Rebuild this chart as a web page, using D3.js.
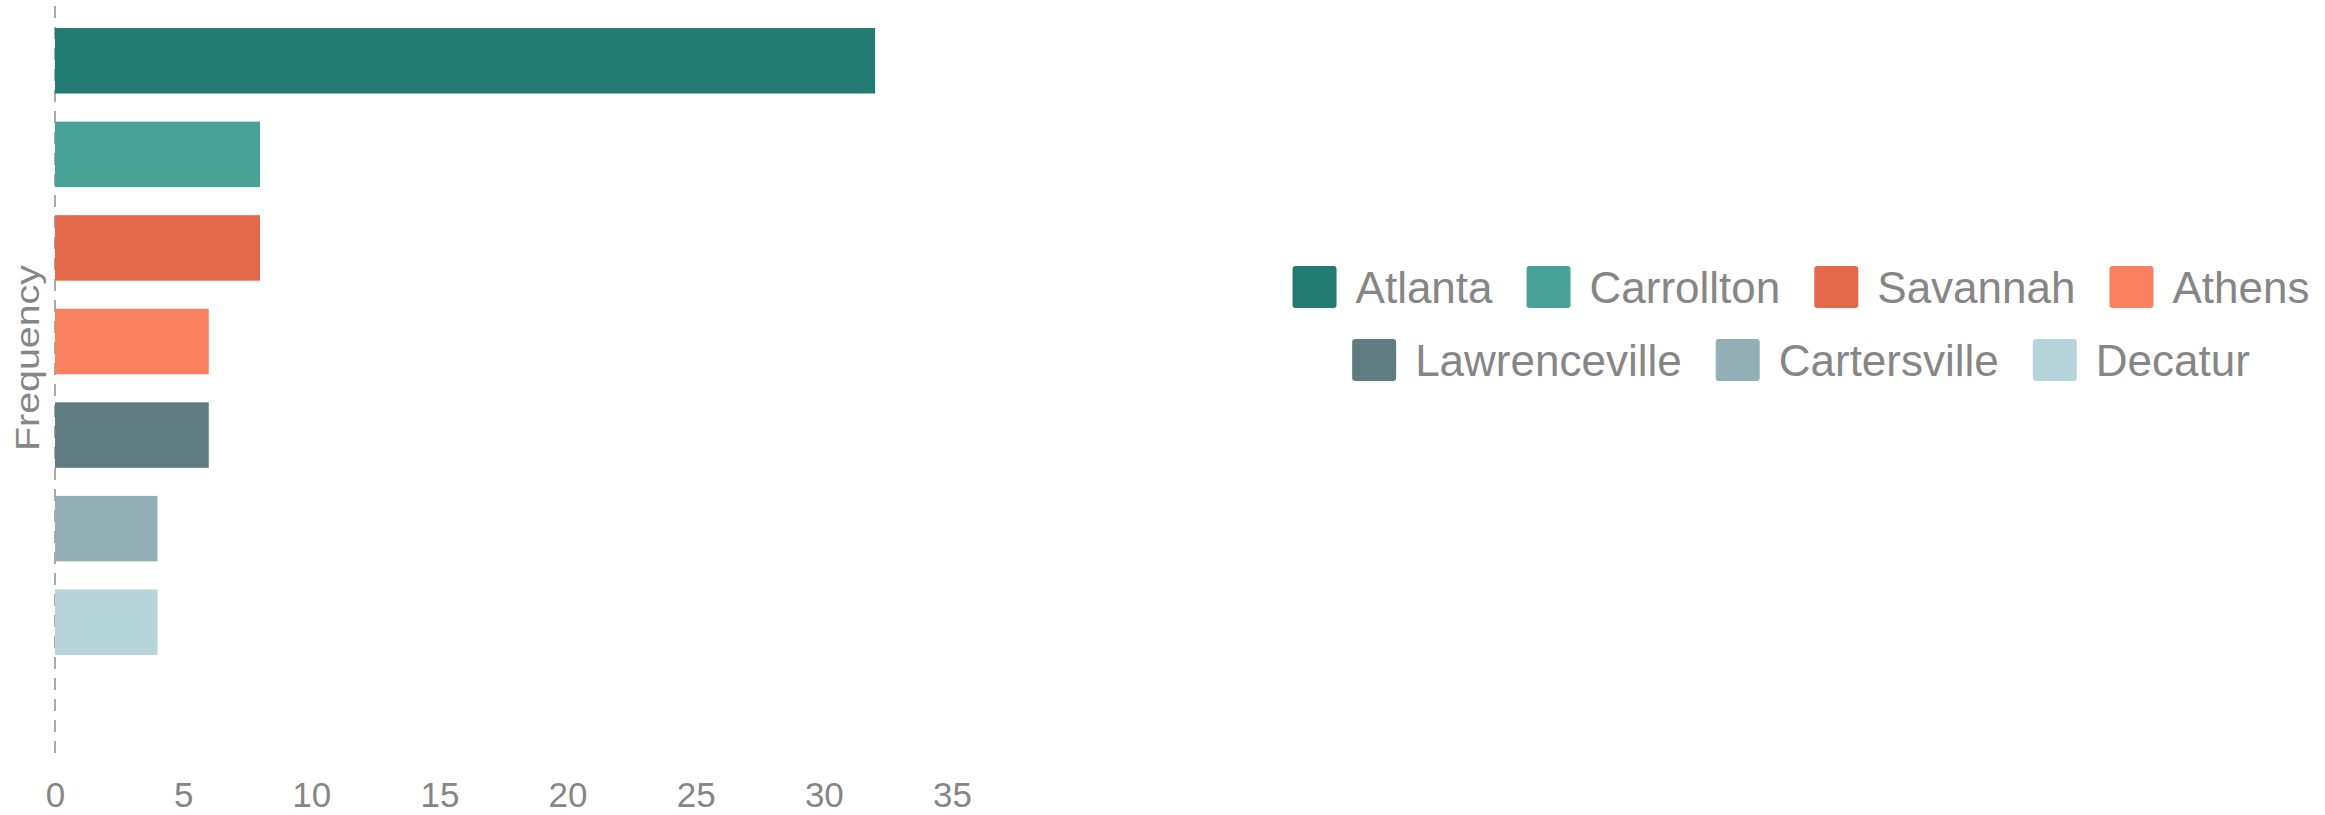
<!DOCTYPE html>
<html>
<head>
<meta charset="utf-8">
<script src="https://cdn.jsdelivr.net/npm/d3@7"></script>
<style>
  body { margin: 0; background: #fff; }
  text { font-family: "Liberation Sans", Arial, sans-serif; fill: #868686; }
</style>
</head>
<body>
<script>
// data
const cities = ["Atlanta", "Carrollton", "Savannah", "Athens", "Lawrenceville", "Cartersville", "Decatur"];
const counts = [32, 8, 8, 6, 6, 4, 4];
const colors = ["#237c71", "#47a195", "#e4694a", "#fa815f", "#5f7d80", "#92b0b5", "#b5d5da"];
const xTicks = [0, 5, 10, 15, 20, 25, 30, 35];
const legendRows = [[0, 1, 2, 3], [4, 5, 6]];

const width = 2325, height = 815;

const svg = d3.select("body").append("svg")
    .attr("width", width)
    .attr("height", height);

const x = d3.scaleLinear().domain([0, 35]).range([55, 952]);
const y = d3.scaleBand().domain(cities).range([14, 669])
    .paddingInner(0.3).paddingOuter(0.15);

// dashed baseline
svg.append("line")
    .attr("x1", x(0)).attr("x2", x(0))
    .attr("y1", 6).attr("y2", 757)
    .attr("stroke", "#aaa")
    .attr("stroke-width", 2)
    .attr("stroke-dasharray", "12,9");

// bars
svg.selectAll("rect.bar")
    .data(cities)
    .enter().append("rect")
    .attr("class", "bar")
    .attr("x", x(0))
    .attr("y", d => y(d))
    .attr("width", (d, i) => x(counts[i]) - x(0))
    .attr("height", y.bandwidth())
    .attr("fill", (d, i) => colors[i]);

// x axis labels
const xAxis = d3.axisBottom(x).tickValues(xTicks).tickSize(0).tickPadding(0);
const gx = svg.append("g")
    .attr("transform", "translate(0,807)")
    .call(xAxis);
gx.select(".domain").remove();
gx.selectAll("text")
    .attr("dy", "0")
    .style("font-size", "35px")
    .style("font-family", "'Liberation Sans', Arial, sans-serif")
    .attr("fill", "#888");

// y label
svg.append("text")
    .attr("transform", "translate(39,358) rotate(-90)")
    .attr("text-anchor", "middle")
    .attr("textLength", 186)
    .attr("lengthAdjust", "spacingAndGlyphs")
    .style("font-size", "33px")
    .text("Frequency");

// legend, rows centred
const legendCx = 1801;
const rowBase = [303, 376];
legendRows.forEach((row, r) => {
    const g = svg.append("g");
    let cur = 0;
    row.forEach(i => {
        const item = g.append("g").attr("transform", `translate(${cur},0)`);
        item.append("rect")
            .attr("x", 0).attr("y", rowBase[r] - 37)
            .attr("width", 44).attr("height", 42)
            .attr("rx", 3)
            .attr("fill", colors[i]);
        const t = item.append("text")
            .attr("x", 63).attr("y", rowBase[r])
            .style("font-size", "44px")
            .text(cities[i]);
        cur += 63 + t.node().getComputedTextLength() + 34;
    });
    const total = cur - 34;
    g.attr("transform", `translate(${legendCx - total / 2},0)`);
});
</script>
</body>
</html>
